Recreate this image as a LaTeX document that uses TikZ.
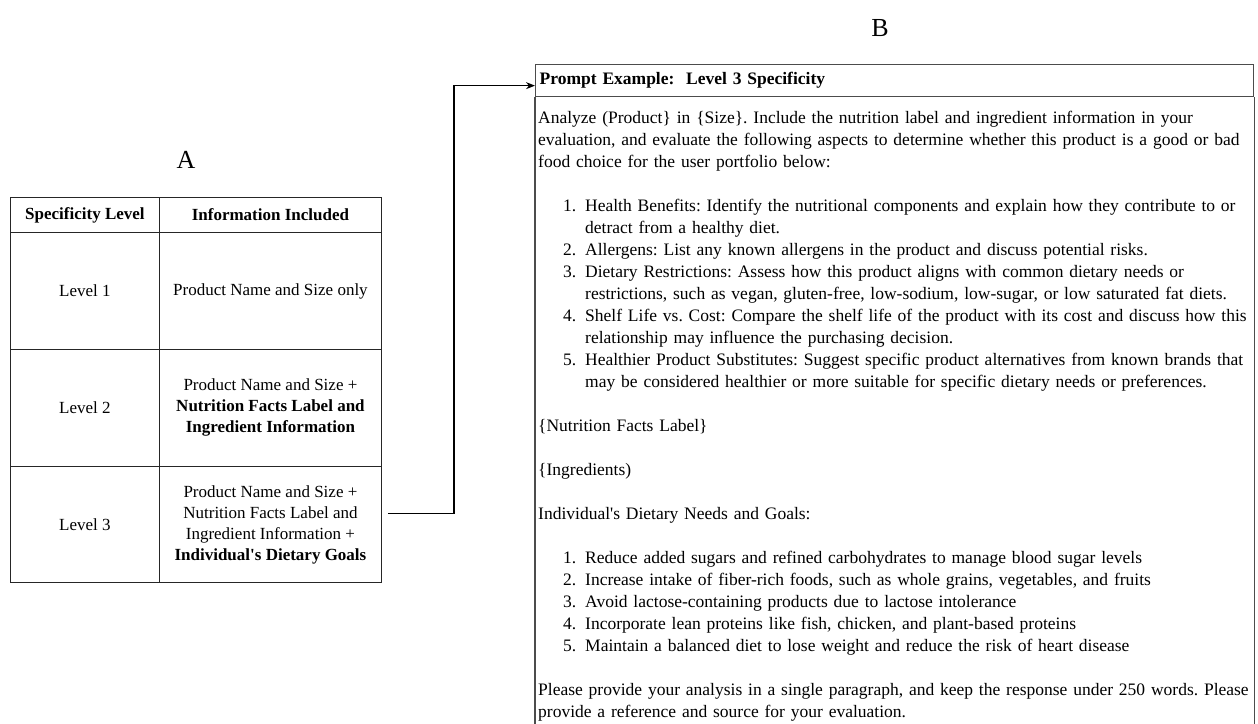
\documentclass[tikz,border=0pt]{standalone}
\usepackage{fontspec}
\setmainfont{Liberation Serif}
\usetikzlibrary{arrows.meta, positioning}

\newcommand{\numitem}[2]{\hspace*{25pt}\makebox[22pt][l]{#1}#2}
\newcommand{\contline}[1]{\hspace*{47pt}#1}
\newcommand{\apos}{\textquotesingle}

\begin{document}
\frenchspacing
\begin{tikzpicture}[x=1pt, y=-1pt,
    cell/.style={draw=black!85, line width=0.9pt, anchor=north west, inner sep=0pt,
        align=center, font=\fontsize{17}{21}\selectfont},
    panel/.style={font=\fontsize{26}{26}\selectfont},
    boxline/.style={draw=black!70, line width=1.3pt}]
    \useasboundingbox[fill=white] (0,0) rectangle (1258,723);

    % part A: the table
    \node[panel] (labA) at (186,160) {A};
    \node[cell, minimum width=149pt, minimum height=35pt] (hdLevel) at (10,197) {\textbf{Specificity Level}};
    \node[cell, minimum width=222pt, minimum height=35pt] (hdInfo) at (159,197) {\textbf{Information Included}};
    \node[cell, minimum width=149pt, minimum height=117pt] (lvlOne) at (10,232) {Level 1};
    \node[cell, minimum width=222pt, minimum height=117pt] (infoOne) at (159,232) {Product Name and Size only};
    \node[cell, minimum width=149pt, minimum height=117pt] (lvlTwo) at (10,349) {Level 2};
    \node[cell, minimum width=222pt, minimum height=117pt] (infoTwo) at (159,349)
        {Product Name and Size +\\\textbf{Nutrition Facts Label and}\\\textbf{Ingredient Information}};
    \node[cell, minimum width=149pt, minimum height=116pt] (lvlThree) at (10,466) {Level 3};
    \node[cell, minimum width=222pt, minimum height=116pt] (infoThree) at (159,466)
        {Product Name and Size +\\Nutrition Facts Label and\\Ingredient Information +\\\textbf{Individual\apos s Dietary Goals}};

    % part B: the prompt
    \node[panel] (labB) at (880,28) {B};
    \node[boxline, anchor=north west, minimum width=718pt, minimum height=32pt, text width=710pt,
        inner xsep=4pt, align=left, font=\fontsize{17.5}{22}\selectfont\bfseries] (promptHead) at (535,64)
        {Prompt Example:\ \ Level 3 Specificity};
    \coordinate (boxBottom) at (0,740);
    \draw[boxline] (promptHead.south west) -- (promptHead.south west |- boxBottom)
        -- (promptHead.south east |- boxBottom) -- (promptHead.south east);
    \node[anchor=north west, text width=760pt, inner sep=0pt, align=left,
        font=\fontsize{17.5}{22}\selectfont] (promptBody) at (538,111) {%
        Analyze (Product\} in \{Size\}. Include the nutrition label and ingredient information in your\\
        evaluation, and evaluate the following aspects to determine whether this product is a good or bad\\
        food choice for the user portfolio below:\\[22pt]
        \numitem{1.}{Health Benefits: Identify the nutritional components and explain how they contribute to or}\\
        \contline{detract from a healthy diet.}\\
        \numitem{2.}{Allergens: List any known allergens in the product and discuss potential risks.}\\
        \numitem{3.}{Dietary Restrictions: Assess how this product aligns with common dietary needs or}\\
        \contline{restrictions, such as vegan, gluten-free, low-sodium, low-sugar, or low saturated fat diets.}\\
        \numitem{4.}{Shelf Life vs. Cost: Compare the shelf life of the product with its cost and discuss how this}\\
        \contline{relationship may influence the purchasing decision.}\\
        \numitem{5.}{Healthier Product Substitutes: Suggest specific product alternatives from known brands that}\\
        \contline{may be considered healthier or more suitable for specific dietary needs or preferences.}\\[22pt]
        \{Nutrition Facts Label\}\\[22pt]
        \{Ingredients)\\[22pt]
        Individual\apos s Dietary Needs and Goals:\\[22pt]
        \numitem{1.}{Reduce added sugars and refined carbohydrates to manage blood sugar levels}\\
        \numitem{2.}{Increase intake of fiber-rich foods, such as whole grains, vegetables, and fruits}\\
        \numitem{3.}{Avoid lactose-containing products due to lactose intolerance}\\
        \numitem{4.}{Incorporate lean proteins like fish, chicken, and plant-based proteins}\\
        \numitem{5.}{Maintain a balanced diet to lose weight and reduce the risk of heart disease}\\[22pt]
        Please provide your analysis in a single paragraph, and keep the response under 250 words. Please\\
        provide a reference and source for your evaluation.};

    % connector
    \coordinate (arrStart) at ([xshift=6pt, yshift=11pt]infoThree.east);
    \draw[line width=1.3pt, -{Stealth[length=9pt, width=7pt]}] (arrStart) -- ++(66,0) |- ([yshift=-5pt]promptHead.west);
\end{tikzpicture}
\end{document}
